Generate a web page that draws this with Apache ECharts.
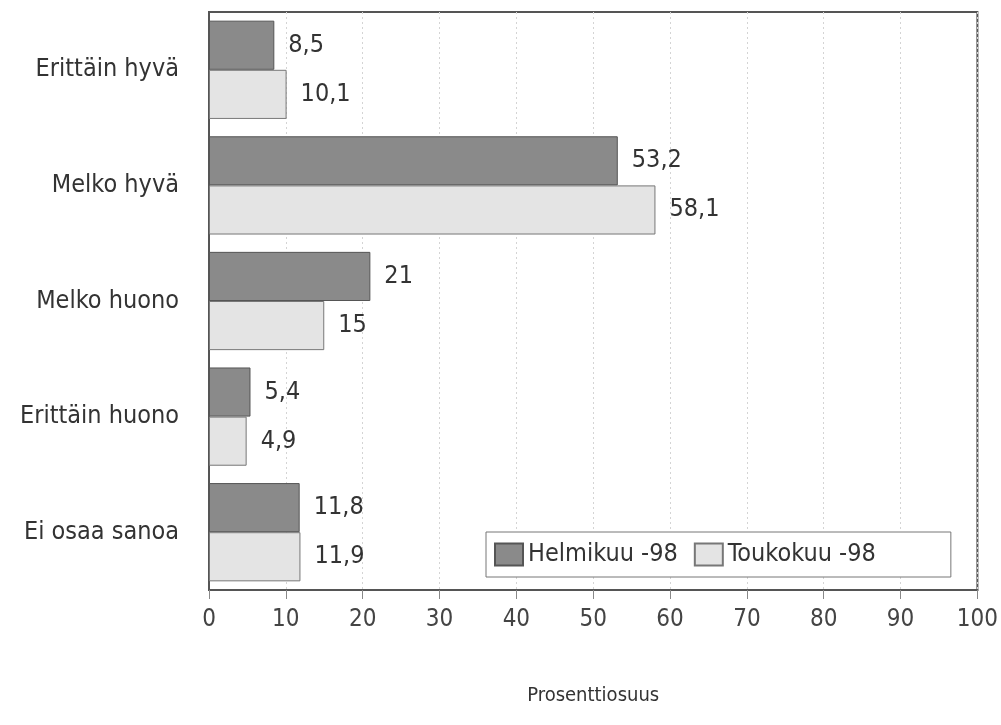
<!DOCTYPE html>
<html><head><meta charset="utf-8">
<script src="https://cdn.jsdelivr.net/npm/echarts@6/dist/echarts.min.js"></script>
<style>html,body{margin:0;padding:0;background:#fff}#c{width:1001px;height:725px}</style>
</head><body><div id="c"></div>
<script>
const categories = ['Erittäin hyvä','Melko hyvä','Melko huono','Erittäin huono','Ei osaa sanoa'];
const helmikuu = [8.5, 53.2, 21, 5.4, 11.8];
const toukokuu = [10.1, 58.1, 15, 4.9, 11.9];
const seriesNames = ['Helmikuu -98','Toukokuu -98'];
const xTicks = [0,10,20,30,40,50,60,70,80,90,100];

const FONT = "'Liberation Sans Narrow','DejaVu Sans Condensed','Roboto',sans-serif";
const fmt = v => String(v.value !== undefined ? v.value : v).replace('.', ',');
const chart = echarts.init(document.getElementById('c'));
chart.setOption({
  animation:false,
  backgroundColor:'#fff',
  textStyle:{fontFamily:FONT},
  grid:{left:209,top:12,width:770,height:578,show:true,borderColor:'#555',borderWidth:2,backgroundColor:'transparent'},
  xAxis:{type:'value',min:0,max:100,interval:10,
    name:'Prosenttiosuus',nameLocation:'middle',nameGap:96,
    nameTextStyle:{fontSize:20,color:'#333',fontFamily:FONT},
    axisLine:{show:true,lineStyle:{color:'#555',width:2}},
    axisTick:{show:true,length:9,lineStyle:{color:'#888',width:1}},
    axisLabel:{fontSize:24,color:'#444',margin:18,fontFamily:FONT,
      formatter:v=>xTicks.includes(v)?String(v):''},
    splitLine:{show:true,lineStyle:{color:'#d4d4d4',type:[2,3],width:1}}},
  yAxis:{type:'category',data:categories,inverse:true,
    axisLine:{show:true,lineStyle:{color:'#555',width:2}},
    axisTick:{show:false},
    axisLabel:{fontSize:25,color:'#333',margin:30,fontFamily:FONT}},
  legend:{data:seriesNames,left:486,top:532,
    padding:[10,75,10,8],itemGap:16,itemWidth:28,itemHeight:22,
    borderColor:'#777',borderWidth:1,backgroundColor:'#fff',
    textStyle:{fontSize:25,color:'#333',fontFamily:FONT},
    icon:'rect'},
  series:[
    {name:seriesNames[0],type:'bar',data:helmikuu,barGap:'0%',barCategoryGap:'15%',
      itemStyle:{color:'#8a8a8a',borderColor:'#555',borderWidth:1},
      label:{show:true,position:'right',distance:14,fontSize:25,color:'#333',fontFamily:FONT,formatter:fmt}},
    {name:seriesNames[1],type:'bar',data:toukokuu,barGap:'0%',barCategoryGap:'15%',
      itemStyle:{color:'#e4e4e4',borderColor:'#777',borderWidth:1},
      label:{show:true,position:'right',distance:14,fontSize:25,color:'#333',fontFamily:FONT,formatter:fmt}}
  ]
});
</script></body></html>
